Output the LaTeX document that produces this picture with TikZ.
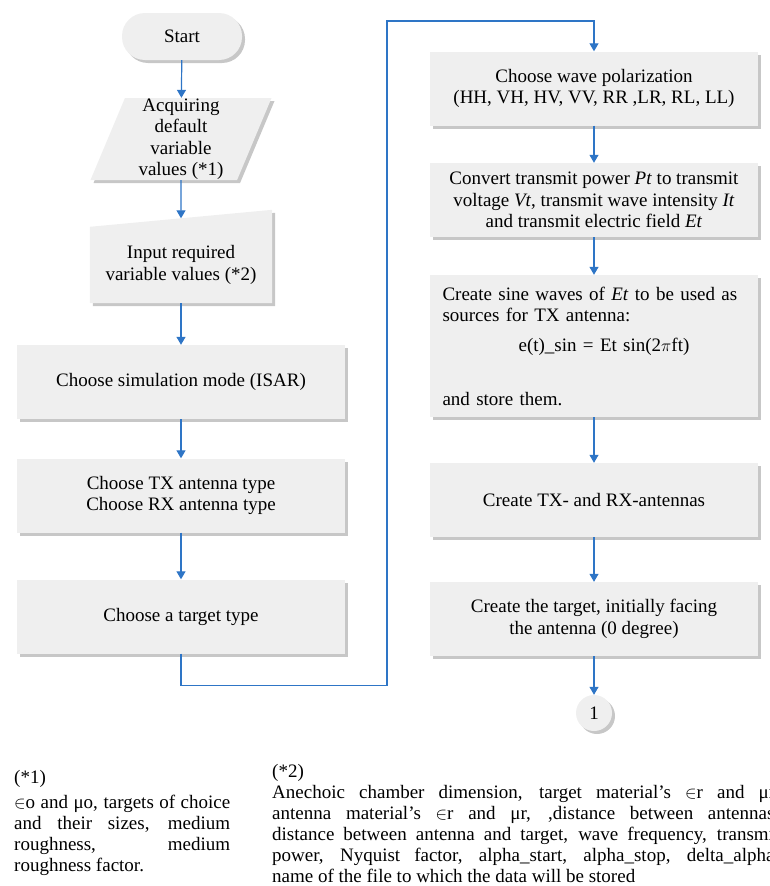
\documentclass[tikz,border=0pt]{standalone}
\usepackage{fontspec}
\setmainfont{Liberation Serif}
\usetikzlibrary{shapes.geometric,shadows,arrows.meta,backgrounds}

\definecolor{flowblue}{RGB}{46,117,198}
\definecolor{boxgray}{RGB}{239,239,239}
\newcommand{\flowfont}{\fontsize{19}{21.5}\selectfont}
\newcommand{\notefont}{\fontsize{19}{21}\selectfont}

\begin{document}
\begin{tikzpicture}[x=1pt,y=-1pt,
    softshadow/.style={drop shadow={shadow xshift=3pt,shadow yshift=-3pt,fill=black,opacity=0.22}},
    process/.style={rectangle, fill=boxgray, minimum width=328pt, minimum height=74pt, align=center, font=\flowfont, softshadow},
    terminal/.style={rectangle, rounded corners=23pt, fill=boxgray, minimum width=120pt, minimum height=47pt, font=\flowfont, softshadow},
    io/.style={trapezium, trapezium left angle=67, trapezium right angle=113, trapezium stretches body, fill=boxgray, minimum width=181pt, minimum height=82pt, inner sep=0pt, align=center, font=\flowfont, softshadow},
    connector/.style={circle, fill=boxgray, minimum size=36pt, inner sep=0pt, font=\flowfont, softshadow},
    flow/.style={draw=flowblue, line width=1.2pt, -{Triangle[width=9pt,length=8pt]}},
    note/.style={anchor=north west, inner sep=0pt, align=justify, font=\notefont}]
    \clip (0,0) rectangle (769,886);

    % Left column
    \node[terminal] (start) at (182,36.5) {Start};
    \node[io] (acq) at (181,139) {Acquiring\\default\\variable\\values (*1)};
    \node[align=center, font=\flowfont, minimum width=182pt, minimum height=84.5pt] (inp) at (181,260.75) {\mbox{}\\Input required\\variable values (*2)};
    \begin{scope}[on background layer]
        \fill[boxgray, softshadow] (inp.south west) -- (inp.south east) -- ([yshift=8.5pt]inp.north east) -- ([yshift=-8.5pt]inp.north west) -- cycle;
    \end{scope}
    \node[process] (sim) at (181,382) {Choose simulation mode (ISAR)};
    \node[process] (ant) at (181,495.5) {Choose TX antenna type\\Choose RX antenna type};
    \node[process] (tgt) at (181,616.5) {Choose a target type};

    % Right column
    \node[process] (pol) at (594,88.5) {Choose wave polarization\\(HH, VH, HV, VV, RR ,LR, RL, LL)};
    \node[process] (conv) at (594,200) {Convert transmit power \textit{Pt} to transmit\\voltage \textit{Vt}, transmit wave intensity \textit{It}\\and transmit electric field \textit{Et}};
    \node[process, minimum height=142pt, text width=303pt, align=left] (sine) at (594,346)
        {\makebox[\linewidth][s]{Create sine waves of \textit{Et} to be used as}\\
         sources for TX antenna:\\[8.5pt]
         \makebox[\linewidth]{\hspace{20pt}e(t)\_sin = Et sin(2$\pi$ft)}\\[32pt]
         and store them.};
    \node[process] (txrx) at (594,500) {Create TX- and RX-antennas};
    \node[process] (ctgt) at (594,619) {Create the target, initially facing\\the antenna (0 degree)};
    \node[connector] (con1) at (594,713) {1};

    % Arrows
    \draw[flow] (start) -- (acq);
    \draw[flow] (acq) -- (inp);
    \draw[flow] (inp) -- (sim);
    \draw[flow] (sim) -- (ant);
    \draw[flow] (ant) -- (tgt);
    \draw[flow] (tgt.south) -- ++(0,32) -| (387,21) -| (pol);
    \draw[flow] (pol) -- (conv);
    \draw[flow] (conv) -- (sine);
    \draw[flow] (sine) -- (txrx);
    \draw[flow] (txrx) -- (ctgt);
    \draw[flow] (ctgt) -- (con1);

    % Notes
    \node[note, text width=216pt] (note1) at (14,770)
        {(*1)\\[4pt]
         $\in$o and μo, targets of choice\linebreak
         and their sizes, medium\linebreak
         roughness, medium\linebreak
         roughness factor.};
    \node[note, text width=507pt] (note2) at (272,764)
        {(*2)\\
         Anechoic chamber dimension, target material's $\in$r and μr,\linebreak
         antenna material's $\in$r and μr, ,distance between antennas,\linebreak
         distance between antenna and target, wave frequency, transmit\linebreak
         power, Nyquist factor, alpha\_start, alpha\_stop, delta\_alpha,\linebreak
         name of the file to which the data will be stored};
\end{tikzpicture}
\end{document}
